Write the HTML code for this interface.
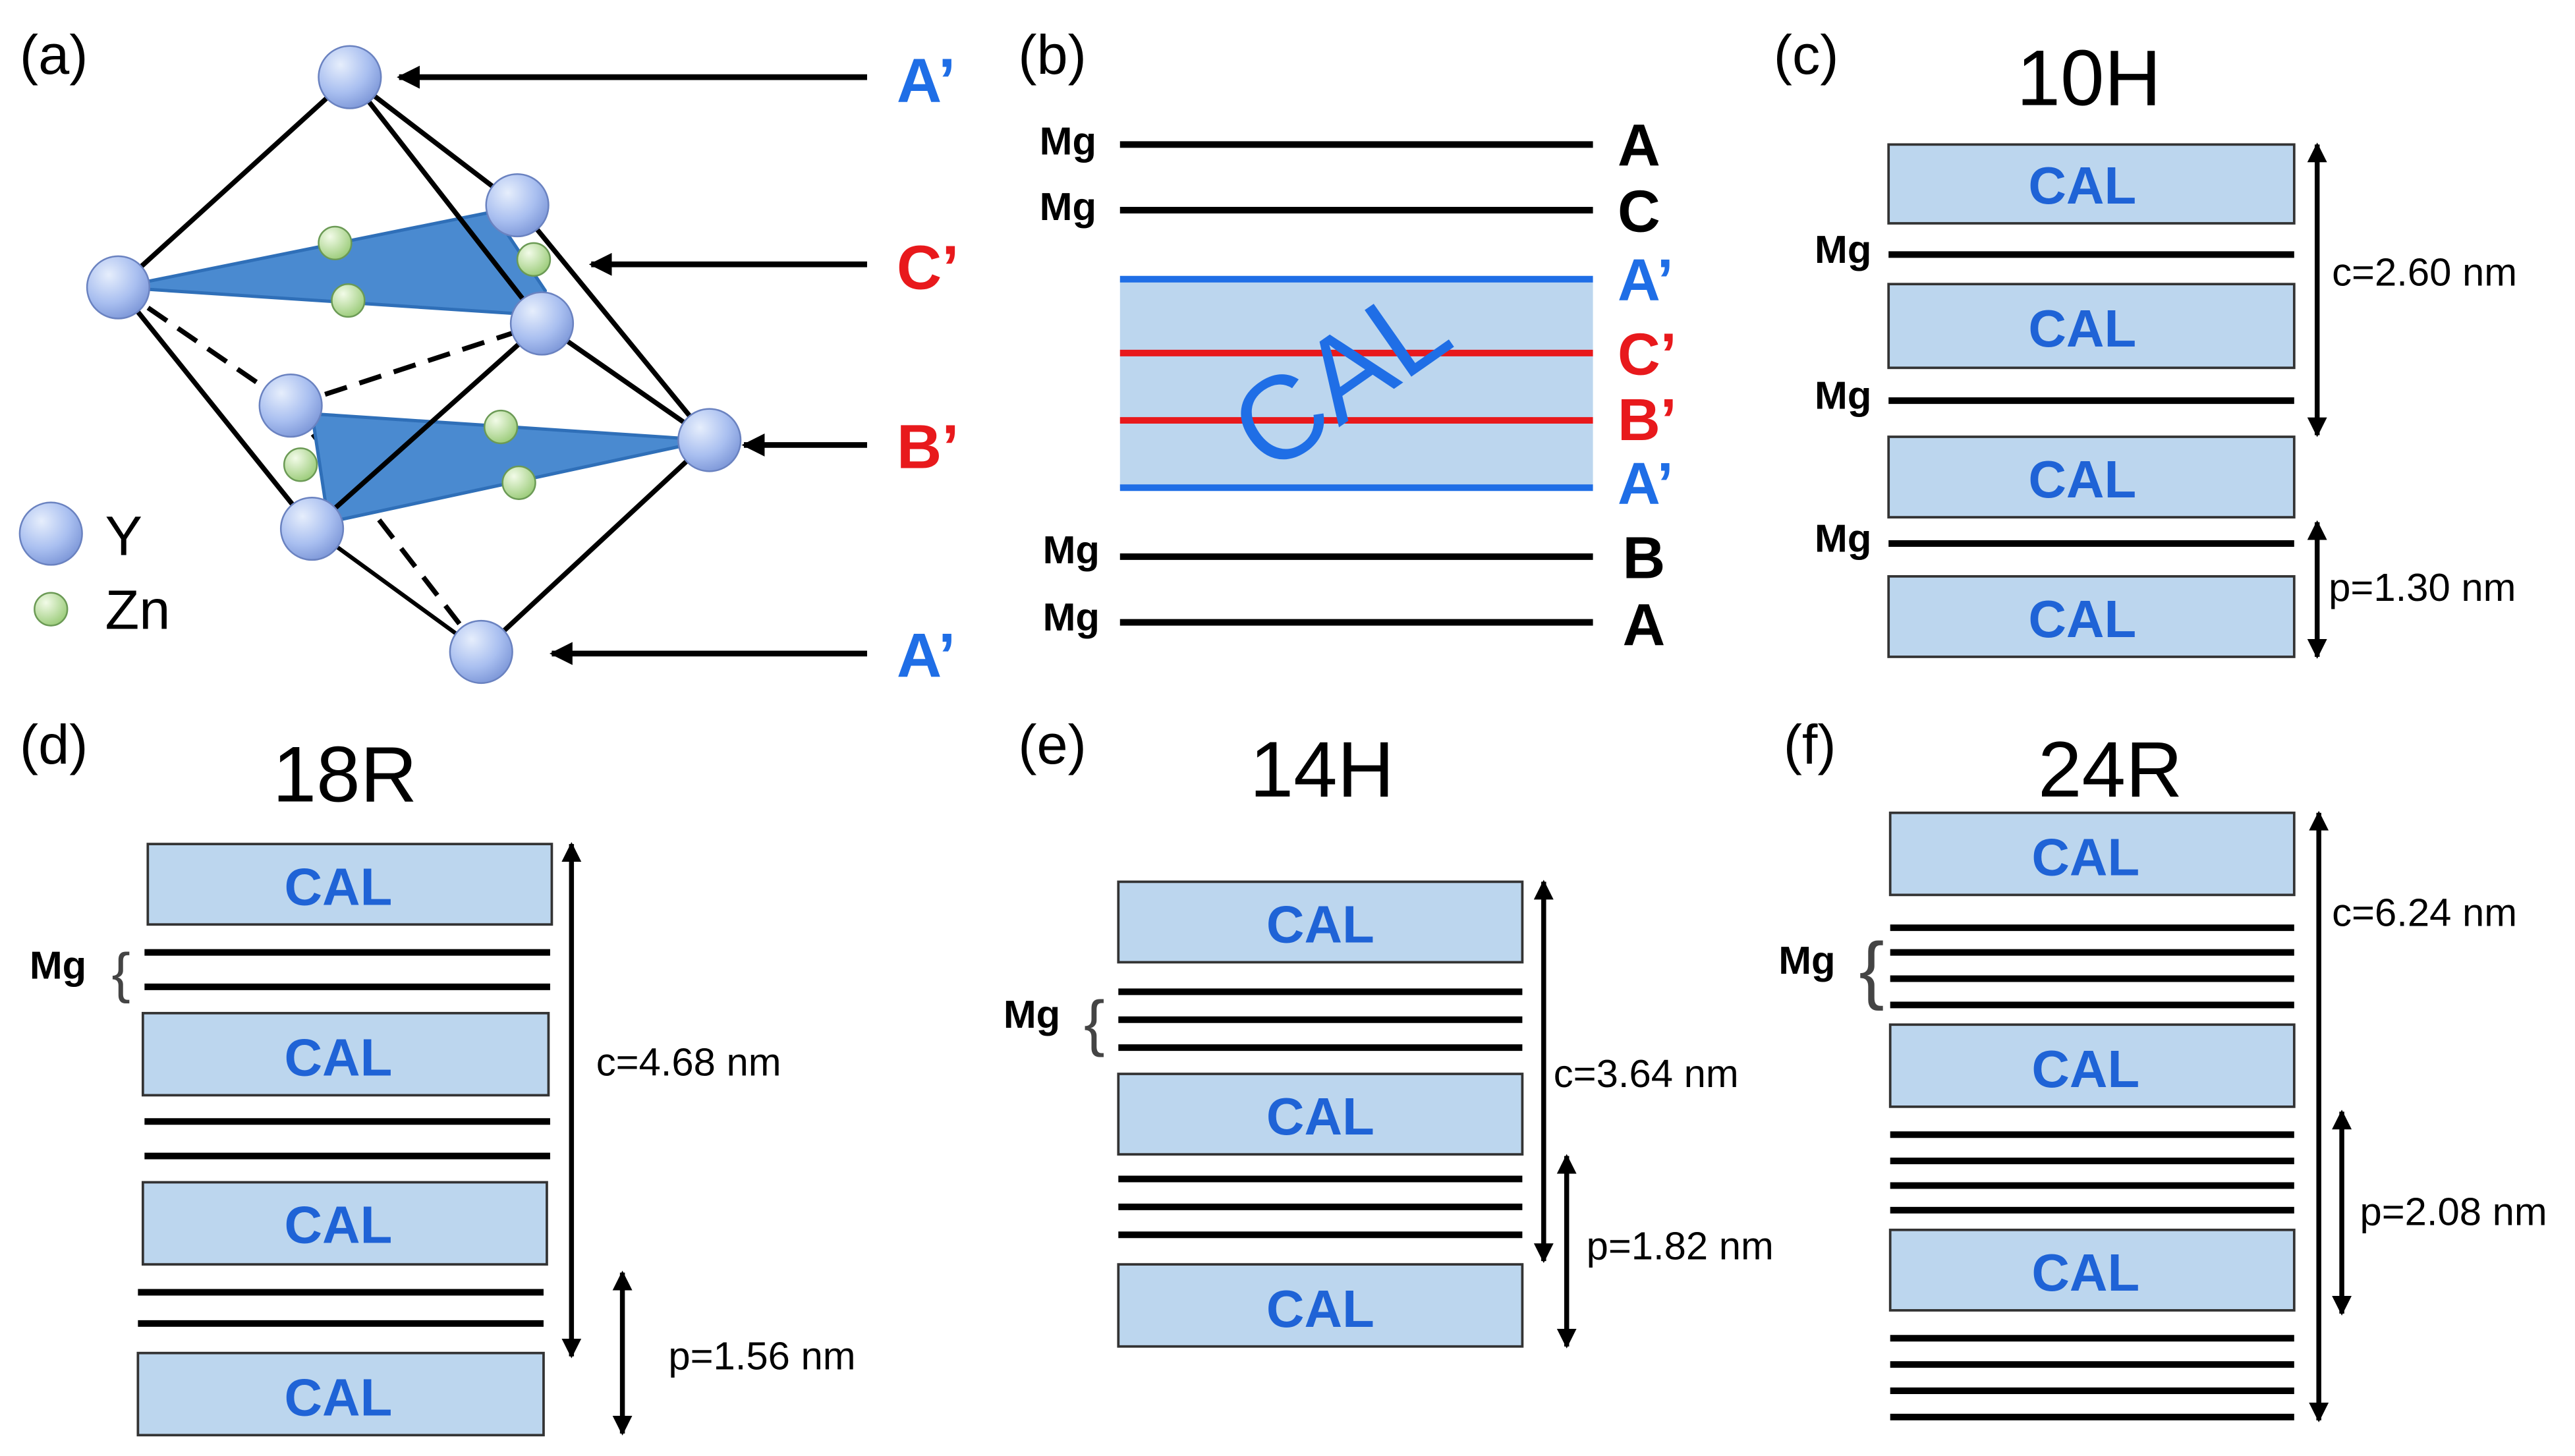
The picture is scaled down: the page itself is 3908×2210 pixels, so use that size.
<!DOCTYPE html>
<html><head><meta charset="utf-8"><style>
html,body{margin:0;padding:0;background:#fff;}
svg{display:block;}
text{font-family:"Liberation Sans",sans-serif;}
.cal{font-weight:bold;fill:#1f63d6;font-size:32px;text-anchor:middle;}
.box{fill:#bcd6ee;stroke:#333;stroke-width:1.5;}
.ml{stroke:#000;stroke-width:4;}
.mg{font-weight:bold;font-size:24px;}
.pl{font-size:34px;}
.ti{font-size:48px;text-anchor:middle;}
.dim{font-size:24px;}
.ed{stroke:#000;stroke-width:3;fill:none;}
</style></head><body>
<svg width="3908" height="2210" viewBox="0 0 1568 886.7" xmlns="http://www.w3.org/2000/svg">
<defs>
<marker id="ah" viewBox="0 0 10 10" refX="9" refY="5" markerWidth="4" markerHeight="4" orient="auto-start-reverse"><path d="M0,0L10,5L0,10z" fill="#000"/></marker>
<radialGradient id="sg" cx="0.35" cy="0.3" r="0.75"><stop offset="0" stop-color="#e6eefc"/><stop offset="0.6" stop-color="#a9bff0"/><stop offset="1" stop-color="#7d97d8"/></radialGradient>
<radialGradient id="zg" cx="0.35" cy="0.3" r="0.75"><stop offset="0" stop-color="#f2fbe8"/><stop offset="1" stop-color="#9acb78"/></radialGradient>
</defs>
<rect width="1568" height="887" fill="#fff"/>
<text x="12" y="45" class="pl">(a)</text>
<text x="620" y="45" class="pl">(b)</text>
<text x="1080" y="45" class="pl">(c)</text>
<text x="12" y="465" class="pl">(d)</text>
<text x="620" y="465" class="pl">(e)</text>
<text x="1086" y="465" class="pl">(f)</text>

<!-- panel a -->
<g class="ed" stroke-dasharray="14,8">
<line x1="72" y1="175" x2="177" y2="247"/>
<line x1="177" y1="247" x2="330" y2="197"/>
<line x1="177" y1="247" x2="293" y2="397"/>
</g>
<polygon points="72,175 300,129 332,177 330,192" fill="#4a8ad0" stroke="#2f6fb8" stroke-width="2"/>
<polygon points="190,252 432,268 200,318" fill="#4a8ad0" stroke="#2f6fb8" stroke-width="2"/>
<g class="ed">
<line x1="213" y1="47" x2="72" y2="175"/>
<line x1="213" y1="47" x2="315" y2="125"/>
<line x1="213" y1="47" x2="330" y2="197"/>
<line x1="315" y1="125" x2="432" y2="268"/>
<line x1="330" y1="197" x2="432" y2="268"/>
<line x1="330" y1="197" x2="190" y2="322"/>
<line x1="72" y1="175" x2="190" y2="322"/>
<line x1="432" y1="268" x2="293" y2="397"/>
<line x1="190" y1="322" x2="293" y2="397" stroke-width="2.5"/>
</g>
<g fill="url(#zg)" stroke="#6b9a55" stroke-width="1">
<circle cx="204" cy="148" r="10"/><circle cx="325" cy="158" r="10"/><circle cx="212" cy="183" r="10"/>
<circle cx="305" cy="260" r="10"/><circle cx="183" cy="283" r="10"/><circle cx="316" cy="294" r="10"/>
</g>
<g fill="url(#sg)" stroke="#6a82c0" stroke-width="1">
<circle cx="213" cy="47" r="19"/><circle cx="315" cy="125" r="19"/><circle cx="72" cy="175" r="19"/>
<circle cx="330" cy="197" r="19"/><circle cx="177" cy="247" r="19"/><circle cx="432" cy="268" r="19"/>
<circle cx="190" cy="322" r="19"/><circle cx="293" cy="397" r="19"/>
<circle cx="31" cy="325" r="19"/>
</g>
<circle cx="31" cy="371" r="10" fill="url(#zg)" stroke="#6b9a55"/>
<text x="64" y="338" font-size="34">Y</text>
<text x="64" y="383" font-size="34">Zn</text>
<g stroke="#000" stroke-width="3.5" marker-end="url(#ah)">
<line x1="528" y1="47" x2="243" y2="47"/>
<line x1="528" y1="161" x2="360" y2="161"/>
<line x1="528" y1="271" x2="453" y2="271"/>
<line x1="528" y1="398" x2="336" y2="398"/>
</g>
<g font-size="38" font-weight="bold">
<text x="546" y="62" fill="#1f6ee6">A’</text>
<text x="546" y="176" fill="#e8191c">C’</text>
<text x="546" y="285" fill="#e8191c">B’</text>
<text x="546" y="412" fill="#1f6ee6">A’</text>
</g>

<!-- panel b -->
<rect x="682" y="170" width="288" height="127" fill="#bcd6ee"/>
<line x1="682" y1="88" x2="970" y2="88" class="ml"/>
<line x1="682" y1="128" x2="970" y2="128" class="ml"/>
<line x1="682" y1="170" x2="970" y2="170" stroke="#1f6ee6" stroke-width="4"/>
<line x1="682" y1="297" x2="970" y2="297" stroke="#1f6ee6" stroke-width="4"/>
<line x1="682" y1="215" x2="970" y2="215" stroke="#e8191c" stroke-width="4"/>
<line x1="682" y1="256" x2="970" y2="256" stroke="#e8191c" stroke-width="4"/>
<line x1="682" y1="339" x2="970" y2="339" class="ml"/>
<line x1="682" y1="379" x2="970" y2="379" class="ml"/>
<text transform="translate(830,250) rotate(-35)" font-size="72" fill="#1f6ee6" text-anchor="middle">CAL</text>
<g class="mg"><text x="633" y="94">Mg</text><text x="633" y="134">Mg</text><text x="635" y="343">Mg</text><text x="635" y="384">Mg</text></g>
<g font-size="36" font-weight="bold">
<text x="985" y="101">A</text><text x="985" y="141">C</text>
<text x="985" y="183" fill="#1f6ee6">A’</text><text x="985" y="228" fill="#e8191c">C’</text>
<text x="985" y="268" fill="#e8191c">B’</text><text x="985" y="307" fill="#1f6ee6">A’</text>
<text x="988" y="352">B</text><text x="988" y="393">A</text>
</g>

<!-- panel c -->
<text x="1272" y="64" class="ti">10H</text>
<rect x="1150" y="88" width="247" height="48" class="box"/><text x="1268" y="124" class="cal">CAL</text>
<rect x="1150" y="173" width="247" height="51" class="box"/><text x="1268" y="211" class="cal">CAL</text>
<rect x="1150" y="266" width="247" height="49" class="box"/><text x="1268" y="303" class="cal">CAL</text>
<rect x="1150" y="351" width="247" height="49" class="box"/><text x="1268" y="388" class="cal">CAL</text>
<line x1="1150" y1="155" x2="1397" y2="155" class="ml"/>
<line x1="1150" y1="244" x2="1397" y2="244" class="ml"/>
<line x1="1150" y1="331" x2="1397" y2="331" class="ml"/>
<g class="mg"><text x="1105" y="160">Mg</text><text x="1105" y="249">Mg</text><text x="1105" y="336">Mg</text></g>
<g stroke="#000" stroke-width="3" marker-start="url(#ah)" marker-end="url(#ah)">
<line x1="1411" y1="88" x2="1411" y2="265"/>
<line x1="1411" y1="318" x2="1411" y2="400"/>
</g>
<text x="1420" y="174" class="dim">c=2.60 nm</text>
<text x="1418" y="366" class="dim">p=1.30 nm</text>

<!-- panel d -->
<text x="210" y="488" class="ti">18R</text>
<rect x="90" y="514" width="246" height="49" class="box"/><text x="206" y="551" class="cal">CAL</text>
<rect x="87" y="617" width="247" height="50" class="box"/><text x="206" y="655" class="cal">CAL</text>
<rect x="87" y="720" width="246" height="50" class="box"/><text x="206" y="757" class="cal">CAL</text>
<rect x="84" y="824" width="247" height="50" class="box"/><text x="206" y="862" class="cal">CAL</text>
<line x1="88" y1="580" x2="335" y2="580" class="ml"/><line x1="88" y1="601" x2="335" y2="601" class="ml"/>
<line x1="88" y1="683" x2="335" y2="683" class="ml"/><line x1="88" y1="704" x2="335" y2="704" class="ml"/>
<line x1="84" y1="787" x2="331" y2="787" class="ml"/><line x1="84" y1="806" x2="331" y2="806" class="ml"/>
<text x="18" y="596" class="mg">Mg</text>
<text x="68" y="604" font-size="34" fill="#444">{</text>
<g stroke="#000" stroke-width="3" marker-start="url(#ah)" marker-end="url(#ah)">
<line x1="348" y1="514" x2="348" y2="826"/>
<line x1="379" y1="775" x2="379" y2="873"/>
</g>
<text x="363" y="655" class="dim">c=4.68 nm</text>
<text x="407" y="834" class="dim">p=1.56 nm</text>

<!-- panel e -->
<text x="805" y="485" class="ti">14H</text>
<rect x="681" y="537" width="246" height="49" class="box"/><text x="804" y="574" class="cal">CAL</text>
<rect x="681" y="654" width="246" height="49" class="box"/><text x="804" y="691" class="cal">CAL</text>
<rect x="681" y="770" width="246" height="50" class="box"/><text x="804" y="808" class="cal">CAL</text>
<line x1="681" y1="604" x2="927" y2="604" class="ml"/><line x1="681" y1="621" x2="927" y2="621" class="ml"/><line x1="681" y1="638" x2="927" y2="638" class="ml"/>
<line x1="681" y1="718" x2="927" y2="718" class="ml"/><line x1="681" y1="735" x2="927" y2="735" class="ml"/><line x1="681" y1="752" x2="927" y2="752" class="ml"/>
<text x="611" y="626" class="mg">Mg</text>
<text x="660" y="636" font-size="38" fill="#444">{</text>
<g stroke="#000" stroke-width="3" marker-start="url(#ah)" marker-end="url(#ah)">
<line x1="940" y1="537" x2="940" y2="768"/>
<line x1="954" y1="704" x2="954" y2="820"/>
</g>
<text x="946" y="662" class="dim">c=3.64 nm</text>
<text x="966" y="767" class="dim">p=1.82 nm</text>

<!-- panel f -->
<text x="1285" y="485" class="ti">24R</text>
<rect x="1151" y="495" width="246" height="50" class="box"/><text x="1270" y="533" class="cal">CAL</text>
<rect x="1151" y="624" width="246" height="50" class="box"/><text x="1270" y="662" class="cal">CAL</text>
<rect x="1151" y="749" width="246" height="49" class="box"/><text x="1270" y="786" class="cal">CAL</text>
<g class="ml">
<line x1="1151" y1="565" x2="1397" y2="565"/><line x1="1151" y1="580" x2="1397" y2="580"/><line x1="1151" y1="596" x2="1397" y2="596"/><line x1="1151" y1="612" x2="1397" y2="612"/>
<line x1="1151" y1="691" x2="1397" y2="691"/><line x1="1151" y1="707" x2="1397" y2="707"/><line x1="1151" y1="722" x2="1397" y2="722"/><line x1="1151" y1="737" x2="1397" y2="737"/>
<line x1="1151" y1="815" x2="1397" y2="815"/><line x1="1151" y1="831" x2="1397" y2="831"/><line x1="1151" y1="847" x2="1397" y2="847"/><line x1="1151" y1="863" x2="1397" y2="863"/>
</g>
<text x="1083" y="593" class="mg">Mg</text>
<text x="1132" y="606" font-size="46" fill="#444">{</text>
<g stroke="#000" stroke-width="3" marker-start="url(#ah)" marker-end="url(#ah)">
<line x1="1412" y1="495" x2="1412" y2="865"/>
<line x1="1426" y1="677" x2="1426" y2="800"/>
</g>
<text x="1420" y="564" class="dim">c=6.24 nm</text>
<text x="1437" y="746" class="dim">p=2.08 nm</text>
</svg>
</body></html>
